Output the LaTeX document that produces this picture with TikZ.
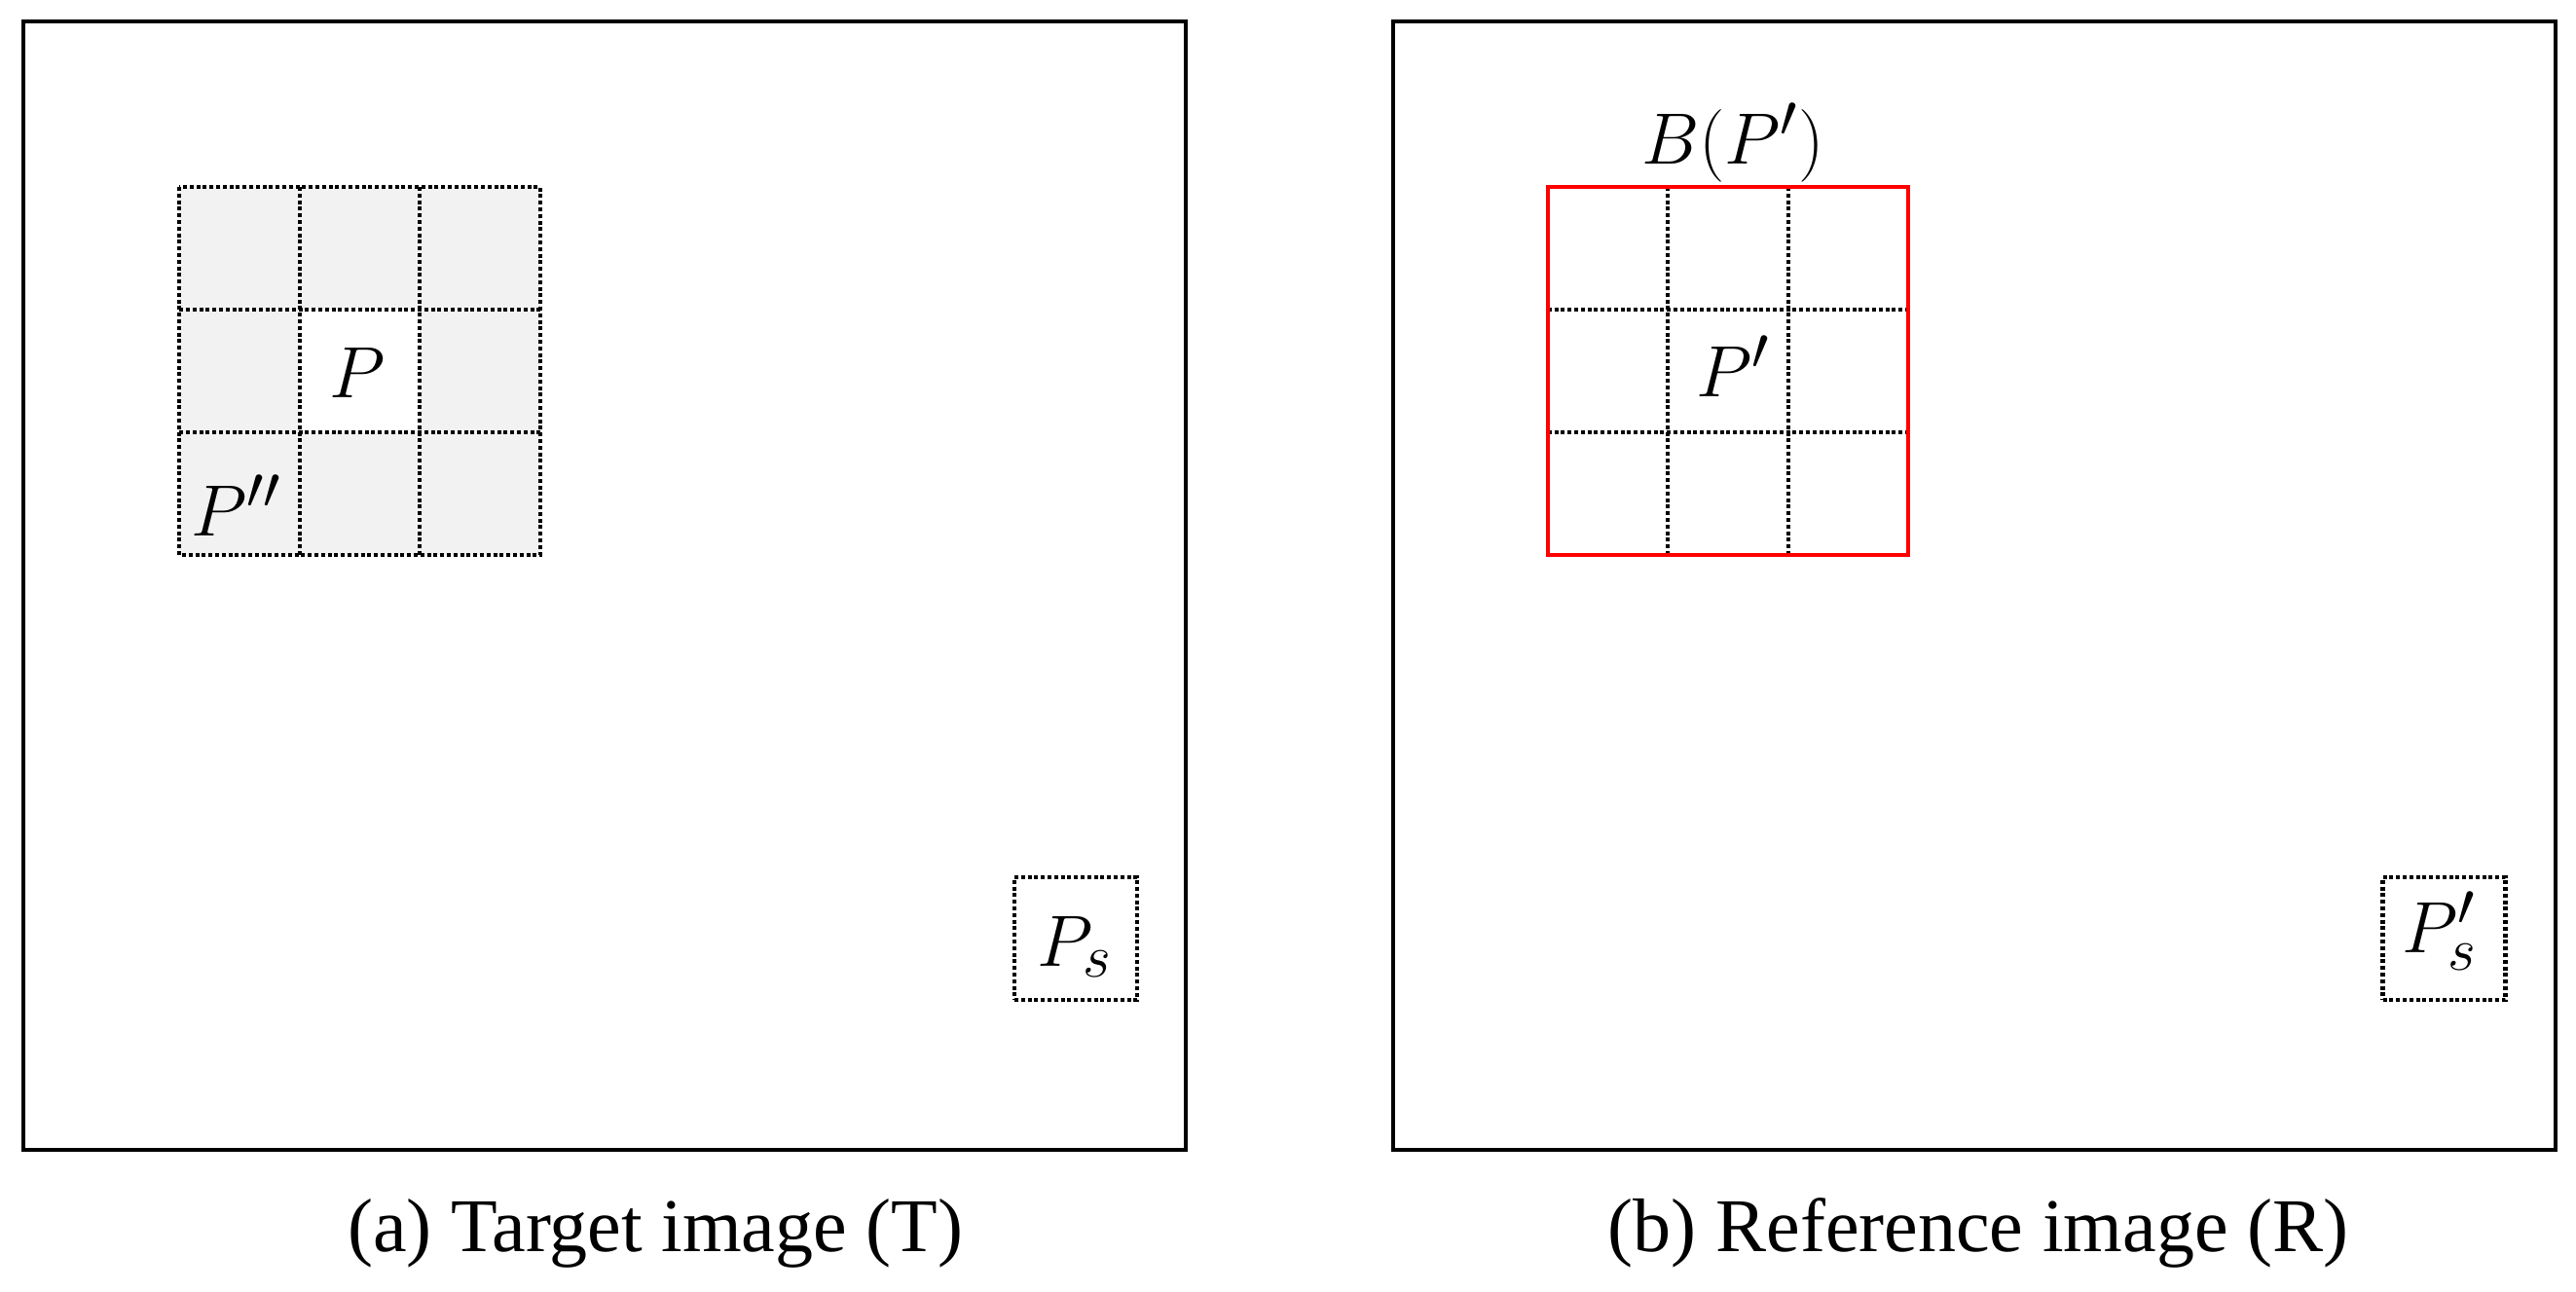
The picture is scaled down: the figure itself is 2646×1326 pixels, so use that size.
\documentclass[tikz,border=0pt]{standalone}
\usepackage{fontspec}
\newfontfamily\capfont{Liberation Serif}
\definecolor{cellgray}{HTML}{F2F2F2}
\definecolor{boxred}{HTML}{FF0000}
\begin{document}
\begin{tikzpicture}[x=1pt,y=-1pt,
  frame/.style={draw=black,line width=4pt,minimum width=1194pt,minimum height=1159pt,inner sep=0pt,outer sep=0pt},
  cellbox/.style={minimum width=123.5pt,minimum height=126pt,inner sep=0pt,outer sep=0pt},
  graycell/.style={cellbox,fill=cellgray},
  dotline/.style={draw=black,line width=4.2pt,dash pattern=on 4pt off 2.8pt},
  redline/.style={draw=boxred,line width=4.2pt},
  smallbox/.style={dotline,minimum width=126pt,minimum height=126pt,inner sep=0pt,outer sep=0pt},
  lbl/.style={font=\Huge,scale=3.0,inner sep=0pt},
  captext/.style={font=\capfont\fontsize{78}{90}\selectfont,inner sep=0pt}]
\useasboundingbox (0,0) rectangle (2646,1326);
\fill[white] (0,0) rectangle (2646,1326);
% frames
\node[frame] (frameT) at (621,601.5) {};
\node[frame] (frameR) at (2028,601.5) {};
% left grid
\node[graycell] (a11) at (246,255) {};
\node[graycell] (a12) at (369.5,255) {};
\node[graycell] (a13) at (493,255) {};
\node[graycell] (a21) at (246,381) {};
\node[cellbox,fill=white] (a22) at (369.5,381) {};
\node[graycell] (a23) at (493,381) {};
\node[graycell] (a31) at (246,507) {};
\node[graycell] (a32) at (369.5,507) {};
\node[graycell] (a33) at (493,507) {};
\draw[dotline] (a11.north west) rectangle (a33.south east);
\draw[dotline] (a11.north east) -- (a31.south east);
\draw[dotline] (a12.north east) -- (a32.south east);
\draw[dotline] (a11.south west) -- (a13.south east);
\draw[dotline] (a21.south west) -- (a23.south east);
\node[lbl,anchor=base] (lP) at (367,408) {$P$};
\node[lbl,anchor=base west] (lPpp) at (196,550) {$P''$};
% right grid
\node[cellbox] (b11) at (1651.5,255) {};
\node[cellbox] (b12) at (1775,255) {};
\node[cellbox] (b13) at (1898.5,255) {};
\node[cellbox] (b21) at (1651.5,381) {};
\node[cellbox] (b22) at (1775,381) {};
\node[cellbox] (b23) at (1898.5,381) {};
\node[cellbox] (b31) at (1651.5,507) {};
\node[cellbox] (b32) at (1775,507) {};
\node[cellbox] (b33) at (1898.5,507) {};
\draw[dotline] (b11.north east) -- (b31.south east);
\draw[dotline] (b12.north east) -- (b32.south east);
\draw[dotline] (b11.south west) -- (b13.south east);
\draw[dotline] (b21.south west) -- (b23.south east);
\draw[redline] (b11.north west) rectangle (b33.south east);
\node[lbl,anchor=base] (rP) at (1780,407) {$P'$};
\node[lbl,anchor=base] (BP) at (1780,168) {$B(P')$};
% small boxes
\node[smallbox] (ps) at (1105,964) {};
\node[lbl,anchor=base] (psl) at (1104,992) {$P_s$};
\node[smallbox] (psr) at (2510.5,964) {};
\node[lbl,anchor=base] (psrl) at (2506,978) {$P'_s$};
% captions
\node[captext,anchor=base] (capT) at (673,1285) {(a) Target image (T)};
\node[captext,anchor=base] (capR) at (2032,1285) {(b) Reference image (R)};
\end{tikzpicture}
\end{document}
